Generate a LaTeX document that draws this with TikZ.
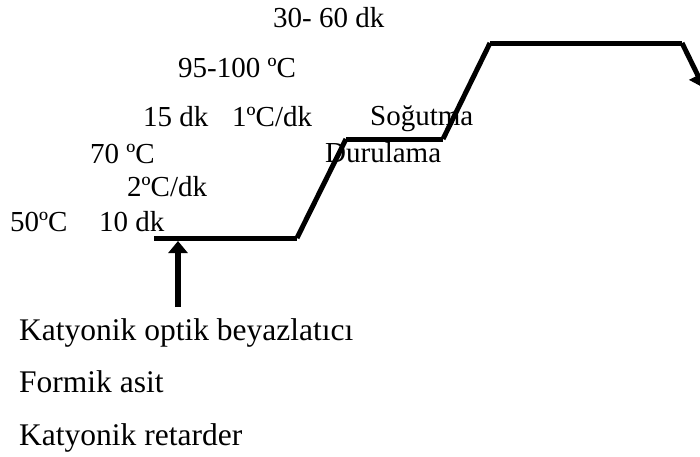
\documentclass[tikz,border=0pt]{standalone}
\usepackage{fontspec}
\setmainfont{Liberation Serif}
\usetikzlibrary{arrows.meta}
\begin{document}
\begin{tikzpicture}[x=1pt,y=-1pt,
  lbl/.style={inner sep=0pt,anchor=base west,font=\fontsize{29}{33}\selectfont},
  biglbl/.style={lbl,font=\fontsize{31.5}{36}\selectfont},
  curve/.style={line width=5pt,black},
  feed/.style={line width=6pt,black,-{Triangle[length=12pt,width=19pt]}},
  outarrow/.style={line width=5pt,black,-{Triangle[length=14pt,width=19pt]}}]
\useasboundingbox (0,0) rectangle (700,456);
% profile points
\coordinate (p1) at (154,238);
\coordinate (p2) at (297,238);
\coordinate (p3) at (346,139);
\coordinate (p4) at (443,139);
\coordinate (p5) at (490,43);
\coordinate (p6) at (682,43);
\coordinate (p7) at (704,88);
\coordinate (fa) at (178,307);
\coordinate (fb) at (178,241);
% profile
\draw[curve] (p1) -- (p2);
\draw[curve] (p2) -- (p3);
\draw[curve] (p3) -- (p4);
\draw[curve] (p4) -- (p5);
\draw[curve] (p5) -- (p6);
\draw[outarrow] (p6) -- (p7);
\draw[feed] (fa) -- (fb);
% labels
\node[lbl] (t1) at (273,27) {30- 60 dk};
\node[lbl] (t2) at (178,77) {95-100 ºC};
\node[lbl] (t3) at (143,126) {15 dk};
\node[lbl] (t4) at (232,126) {1ºC/dk};
\node[lbl] (t5) at (370,125) {Soğutma};
\node[lbl] (t6) at (90,163) {70 ºC};
\node[lbl] (t7) at (325,162) {Durulama};
\node[lbl] (t8) at (127,196) {2ºC/dk};
\node[lbl] (t9) at (10,231) {50ºC};
\node[lbl] (t10) at (99,231) {10 dk};
\node[biglbl] (k1) at (19,340) {Katyonik optik beyazlatıcı};
\node[biglbl] (k2) at (19,392) {Formik asit};
\node[biglbl] (k3) at (19,445) {Katyonik retarder};
\end{tikzpicture}
\end{document}
